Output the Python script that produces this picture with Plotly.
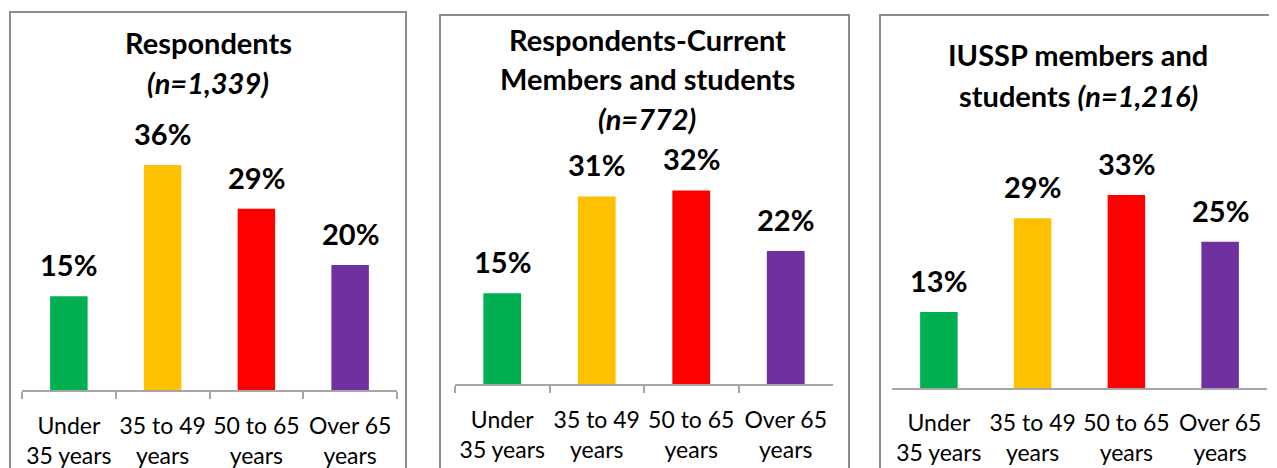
import plotly.graph_objects as go

W, H = 1277, 468
OFF = 8  # page body margin in the browser

categories = ["Under<br>35 years", "35 to 49<br>years", "50 to 65<br>years", "Over 65<br>years"]
colors = ["#00B050", "#FFC000", "#FF0000", "#7030A0"]

values_respondents = [15, 36, 29, 20]
values_current = [15, 31, 32, 22]
values_iussp = [13, 29, 33, 25]

titles = [
    ["<b>Respondents</b>", "<b><i>(n=1,339)</i></b>"],
    ["<b>Respondents-Current</b>", "<b>Members and students</b>", "<b><i>(n=772)</i></b>"],
    ["<b>IUSSP members and</b>", "<b>students <i>(n=1,216)</i></b>"],
]

FONT = "Lato"

def px_x(p):
    return (p - OFF) / W

def px_y(p):
    return 1 - (p - OFF) / H

# panel geometry in window pixels: axis x0, x1, axis baseline y, top of plot area
panels = [
    dict(x0=22, x1=397, yb=390, yt=140, box=(10, 12, 406), title_y=[43, 82], title_x=208, ticks=True),
    dict(x0=455, x1=833, yb=384, yt=142, box=(440, 15, 849), title_y=[40, 78, 118], title_x=647, ticks=True),
    dict(x0=892, x1=1267, yb=388, yt=154, box=(880, 15, 1276), title_y=[55, 95], title_x=1078, ticks=False),
]
series = [values_respondents, values_current, values_iussp]

fig = go.Figure()
annotations = []
shapes = []

for i, (p, vals) in enumerate(zip(panels, series)):
    n = "" if i == 0 else str(i + 1)
    xa = "x" + n
    ya = "y" + n
    fig.add_trace(go.Bar(
        x=categories, y=vals, marker_color=colors, marker_line_width=0,
        xaxis=xa, yaxis=ya, showlegend=False, hoverinfo="skip",
    ))
    fig.update_layout(**{
        "xaxis" + n: dict(
            domain=[px_x(p["x0"]), px_x(p["x1"])], anchor=ya,
            showline=True, linecolor="#a6a6a6", linewidth=2,
            ticks="outside" if p["ticks"] else "", tickson="boundaries",
            ticklen=7, tickcolor="#a6a6a6", tickwidth=2,
            tickfont=dict(family=FONT, size=23, color="#000000"),
            tickangle=0, automargin=False,
            showgrid=False, zeroline=False, fixedrange=True,
            ticklabelstandoff=14 if p["ticks"] else 13,
        ),
        "yaxis" + n: dict(
            domain=[px_y(p["yb"]), px_y(p["yt"])], anchor=xa,
            range=[0, 40], visible=False, showgrid=False, zeroline=False,
            automargin=False,
        ),
    })
    for c, v in zip(categories, vals):
        annotations.append(dict(
            x=c, y=v, xref=xa, yref=ya, text=f"<b>{v}%</b>", showarrow=False,
            yanchor="bottom", yshift=12,
            font=dict(family=FONT, size=29, color="#000000"),
        ))
    for line, ty in zip(titles[i], p["title_y"]):
        annotations.append(dict(
            x=px_x(p["title_x"]), y=px_y(ty), xref="paper", yref="paper",
            text=line, showarrow=False, xanchor="center", yanchor="middle",
            font=dict(family=FONT, size=29, color="#000000"),
        ))
    bx0, by0, bx1 = p["box"]
    shapes.append(dict(
        type="rect", xref="paper", yref="paper",
        x0=px_x(bx0), x1=px_x(bx1), y0=px_y(by0), y1=px_y(H + 40),
        line=dict(color="#8c8c8c", width=2), fillcolor="rgba(0,0,0,0)", layer="below",
    ))

fig.update_layout(
    width=W, height=H,
    margin=dict(l=0, r=0, t=0, b=0, autoexpand=False),
    paper_bgcolor="white", plot_bgcolor="white",
    bargap=0.6,
    annotations=annotations, shapes=shapes,
    font=dict(family=FONT),
)

fig.write_html("out.html", config={"displayModeBar": False})
